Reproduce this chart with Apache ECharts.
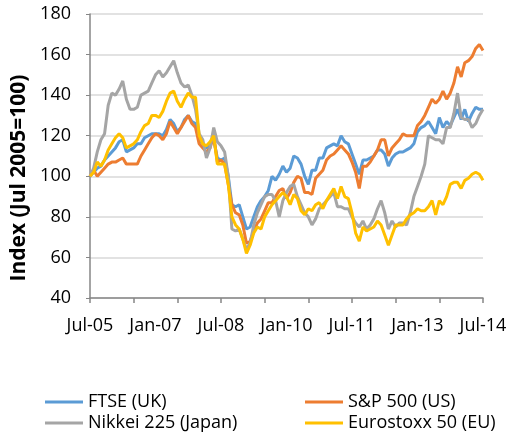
<!DOCTYPE html>
<html><head><meta charset="utf-8">
<script src="https://cdn.jsdelivr.net/npm/echarts@6/dist/echarts.min.js"></script>
<style>html,body{margin:0;padding:0;background:#fff}#c{width:510px;height:441px}</style>
</head><body><div id="c"></div>
<script>
const monthNames = ['Jan','Feb','Mar','Apr','May','Jun','Jul','Aug','Sep','Oct','Nov','Dec'];
const categories = [];
for (let i = 0; i < 109; i++) {
  const m = (6 + i) % 12;
  const y = 2005 + Math.floor((6 + i) / 12);
  categories.push(monthNames[m] + '-' + String(y).slice(2));
}
const yTicks = [40, 60, 80, 100, 120, 140, 160, 180];

const ftse = [100,102,104,105,108,110,112,114,117,118,112,113,114,116,116,119,120,121,121,121,
120,123,128,126,122,124,128,130,127,126,118,116,114,116,118,109,108,109,100,86,
85,86,80,74,75,80,85,88,90,93,100,98,101,105,102,104,110,109,106,100,
96,103,103,109,109,114,115,116,115,120,117,116,111,106,101,108,108,109,110,113,
113,111,105,109,111,112,112,113,114,116,122,124,125,127,124,121,129,124,127,125,
129,133,128,133,127,131,134,133,133];
const sp500 = [100,103,100,102,104,106,107,107,108,109,106,106,106,106,110,113,116,119,121,120,
118,121,127,124,121,124,127,130,126,124,116,114,112,114,120,107,108,106,96,86,
82,81,76,67,68,73,77,79,83,87,87,90,93,94,89,92,97,100,99,92,
92,91,99,101,103,108,110,111,113,115,113,111,107,102,94,105,105,107,110,113,
118,118,110,114,116,118,121,120,120,120,125,127,130,134,138,136,138,142,138,141,
146,154,149,156,157,159,163,165,162];
const nikkei = [100,104,112,118,121,135,141,140,143,147,138,133,133,134,140,141,142,146,150,152,
149,151,154,157,151,146,144,145,140,133,121,118,109,114,124,117,115,112,100,74,
73,74,69,64,67,76,82,86,90,91,91,88,80,88,92,95,96,90,86,82,
80,76,79,84,86,88,90,92,85,85,84,84,80,77,75,78,74,76,79,84,
88,82,74,78,75,77,77,76,82,90,95,100,106,120,119,118,118,116,124,124,
131,141,129,128,128,124,126,130,133];
const euro = [100,102,107,105,108,113,116,119,121,119,114,115,116,118,122,125,126,130,130,129,
132,137,141,142,137,134,138,141,139,139,120,116,115,117,120,106,106,106,96,80,
76,74,69,62,66,72,75,74,80,83,86,88,90,92,90,86,91,89,83,81,
84,83,86,87,84,88,91,94,89,95,90,89,82,72,68,75,73,74,75,78,
76,71,66,71,76,76,76,79,81,82,84,83,83,85,88,81,88,86,90,96,
97,97,94,98,99,101,102,101,98];

const names = ['FTSE (UK)', 'S&P 500 (US)', 'Nikkei 225 (Japan)', 'Eurostoxx 50 (EU)'];
const colors = ['#5B9BD5', '#ED7D31', '#A5A5A5', '#FFC000'];
const values = [ftse, sp500, nikkei, euro];
const yTitle = 'Index (Jul 2005=100)';
const font = 'Open Sans';

const legendPos = [[45, 393], [305, 393], [45, 414], [305, 414]];
const chart = echarts.init(document.getElementById('c'), null, {renderer: 'canvas'});
chart.setOption({
  animation: false,
  backgroundColor: '#fff',
  grid: {left: 90, right: 27, top: 14, bottom: 143, containLabel: false},
  legend: names.map((n, i) => ({
    data: [n], left: legendPos[i][0], top: legendPos[i][1],
    icon: 'rect', itemWidth: 38, itemHeight: 3, itemGap: 0, padding: 0,
    textStyle: {fontFamily: font, fontSize: 18, color: '#000'}
  })),
  xAxis: {
    type: 'category', data: categories, boundaryGap: false,
    axisLine: {lineStyle: {color: '#868686', width: 1.5}},
    axisTick: {show: true, interval: 11, length: 5, lineStyle: {color: '#868686', width: 1.5}},
    axisLabel: {interval: 17, fontFamily: font, fontSize: 18, color: '#000', margin: 19, showMaxLabel: true}
  },
  yAxis: {
    type: 'value', min: 40, max: 180, interval: 20,
    name: yTitle, nameLocation: 'middle', nameGap: 60, nameRotate: 90,
    nameTextStyle: {fontFamily: font, fontSize: 21, fontWeight: 'bold', color: '#000', padding: [0, 44, 0, 0]},
    axisLine: {show: true, lineStyle: {color: '#868686', width: 1.5}},
    axisTick: {show: true, length: 4, lineStyle: {color: '#868686'}},
    axisLabel: {fontFamily: font, fontSize: 18, color: '#000', margin: 19,
      formatter: v => yTicks.includes(v) ? String(v) : ''},
    splitLine: {lineStyle: {color: '#D9D9D9', width: 1.5}}
  },
  series: names.map((n, i) => ({
    name: n, type: 'line', data: values[i], showSymbol: false, symbol: 'none',
    lineStyle: {color: colors[i], width: 3}, itemStyle: {color: colors[i]}
  }))
});
</script></body></html>
